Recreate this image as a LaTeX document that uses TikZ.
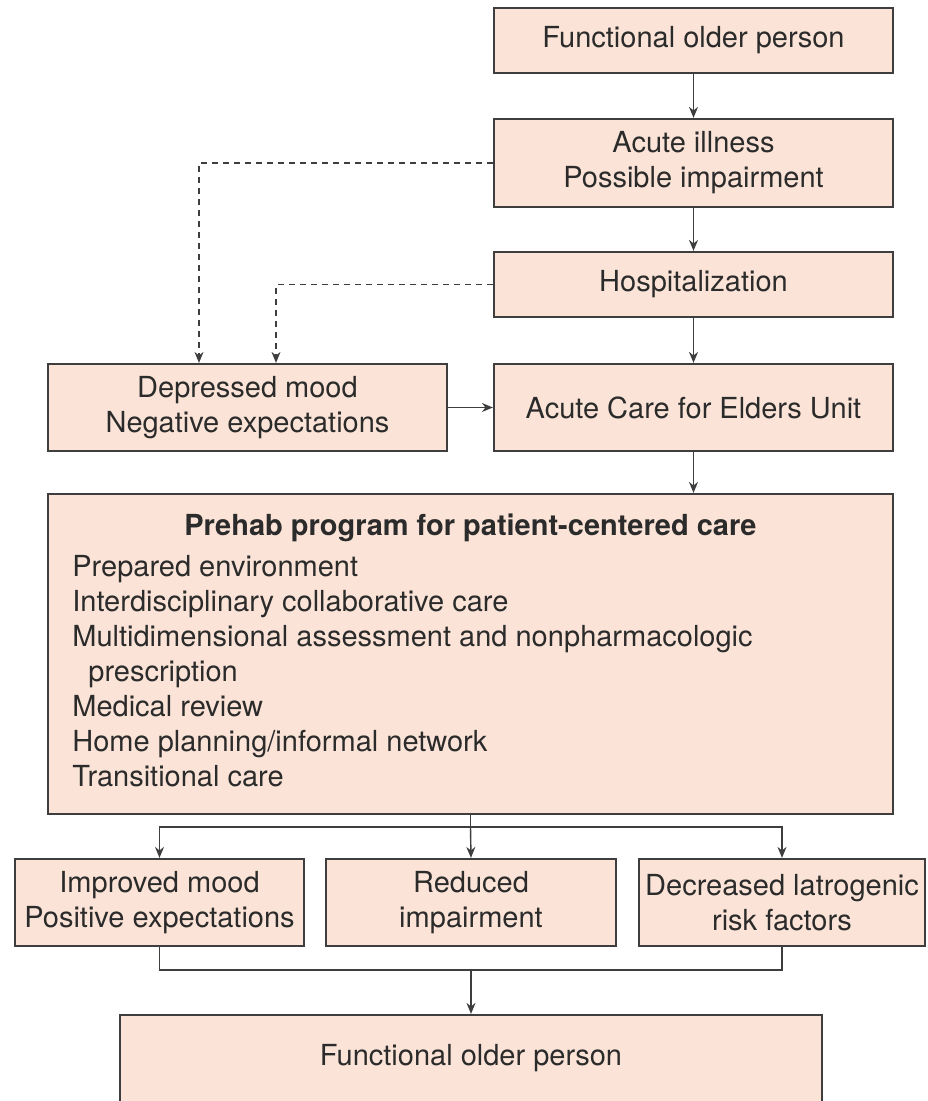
\documentclass[tikz,border=0pt]{standalone}
\usepackage{fontspec}
\setmainfont{TeX Gyre Heros}
\usepackage{xcolor}
\usetikzlibrary{positioning, arrows.meta, calc}
\definecolor{peach}{HTML}{FBE4D7}
\definecolor{edge}{HTML}{3E3E3E}
\definecolor{ink}{HTML}{2B2B2B}

\begin{document}
\begin{tikzpicture}[x=0.5pt, y=-0.5pt,
        every node/.style={font=\fontsize{14.5}{17.5}\selectfont, text=ink},
        box/.style={rectangle, draw=edge, fill=peach, line width=1.1pt,
                    align=center, inner sep=0pt, minimum width=199.5pt},
        arr/.style={draw=edge, line width=0.7pt, -{Stealth[length=5.5pt, width=4.5pt]}},
        dasharr/.style={arr, dash pattern=on 3pt off 2.5pt},
        link/.style={draw=edge, line width=0.7pt}
      ]
        \clip (0,0) rectangle (927,1101);
        \node[box, minimum height=32.5pt] (top) at (693.5,40.5) {Functional older person};
        \node[box, minimum height=44pt] (ill) at (693.5,163) {Acute illness\\Possible impairment};
        \node[box, minimum height=32.5pt] (hosp) at (693.5,284.5) {Hospitalization};
        \node[box, minimum height=43.5pt] (dep) at (247.5,407.5) {Depressed mood\\Negative expectations};
        \node[box, minimum height=43.5pt] (ace) at (693.5,407.5) {Acute Care for Elders Unit};
        \node[box, minimum width=422.5pt, minimum height=160pt] (prehab) at (470.5,654) {};
        \node[font=\fontsize{14.5}{17.5}\selectfont\bfseries] (prehabtitle) at (470.5,528) {Prehab program for patient-centered care};
        \node[anchor=base west, align=left, inner sep=0pt] (prehablist) at (72,786) {Prepared environment\\
          Interdisciplinary collaborative care\\
          Multidimensional assessment and nonpharmacologic\\
          \hspace*{8pt}prescription\\
          Medical review\\
          Home planning/informal network\\
          Transitional care};
        \node[box, minimum width=144.5pt, minimum height=43.5pt] (imp) at (159.5,902.5) {Improved mood\\Positive expectations};
        \node[box, minimum width=145pt, minimum height=43.5pt] (red) at (471,902.5) {Reduced\\impairment};
        \node[box, minimum width=143pt, minimum height=43.5pt] (dec) at (782,902.5) {Decreased latrogenic\\risk factors};
        \node[box, minimum width=351pt, minimum height=60pt] (final) at (471,1075) {};
        \node (finaltext) at (471,1058) {Functional older person};

        \draw[arr] (top) -- (ill);
        \draw[arr] (ill) -- (hosp);
        \draw[arr] (hosp) -- (ace);
        \draw[dasharr] (ill.west) -| ([xshift=-24.25pt]dep.north);
        \draw[dasharr] (hosp.west) -| ([xshift=14.25pt]dep.north);
        \draw[arr] (dep) -- (ace);
        \draw[arr] (ace.south) -- (ace.south |- prehab.north);

        \coordinate (split) at (470.5,827);
        \coordinate (merge) at (471,970);
        \draw[link] (prehab.south) -- (split);
        \draw[arr] (split) -| (imp.north);
        \draw[arr] (split) -- (red.north);
        \draw[arr] (split) -| (dec.north);
        \draw[link] (imp.south) |- (merge) -| (dec.south);
        \draw[arr] (merge) -- (final.north);
      \end{tikzpicture}
\end{document}
